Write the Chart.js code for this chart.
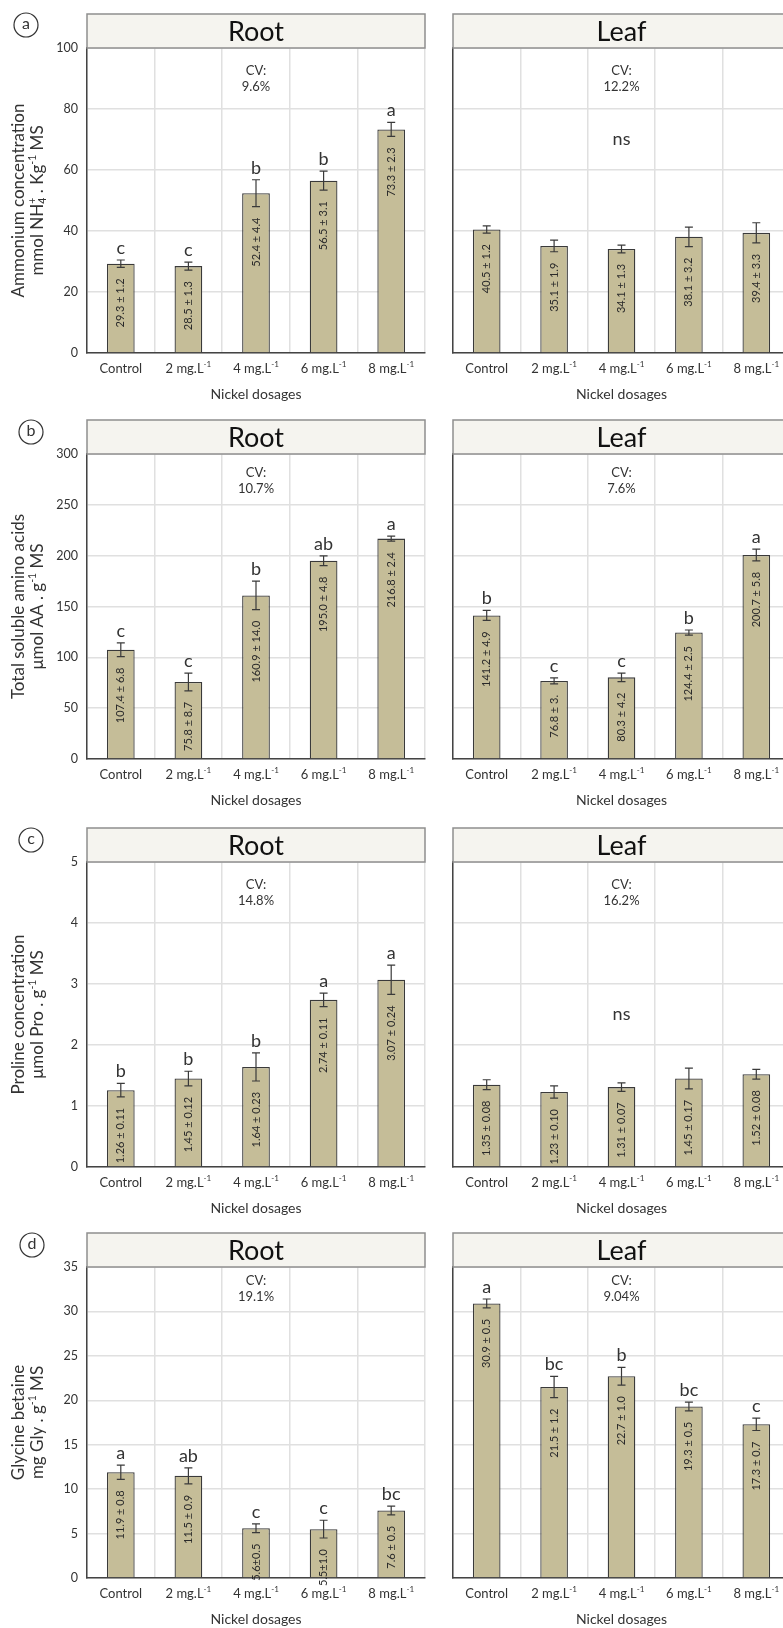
<!DOCTYPE html>
<html>
<head>
<meta charset="utf-8">
<script src="https://cdn.jsdelivr.net/npm/chart.js@4.4.1/dist/chart.umd.min.js"></script>
<style>
html,body{margin:0;padding:0;background:#fff;overflow:hidden;}
#wrap{position:relative;width:783px;height:1628px;overflow:hidden;background:#fff;}
#wrap canvas{position:absolute;}
</style>
</head>
<body>
<div id="wrap"></div>
<script>
// categories (superscripts written as {^..}, subscripts as {_..})
const doses = ['Control', '2 mg.L{^-1}', '4 mg.L{^-1}', '6 mg.L{^-1}', '8 mg.L{^-1}'];

// (a) ammonium
const ammoniumTicks = [0, 20, 40, 60, 80, 100];
const ammoniumRoot = [29.3, 28.5, 52.4, 56.5, 73.3];
const ammoniumRootSd = [1.2, 1.3, 4.4, 3.1, 2.3];
const ammoniumRootLetters = ['c', 'c', 'b', 'b', 'a'];
const ammoniumRootText = ['29.3 ± 1.2', '28.5 ± 1.3', '52.4 ± 4.4', '56.5 ± 3.1', '73.3 ± 2.3'];
const ammoniumLeaf = [40.5, 35.1, 34.1, 38.1, 39.4];
const ammoniumLeafSd = [1.2, 1.9, 1.3, 3.2, 3.3];
const ammoniumLeafText = ['40.5 ± 1.2', '35.1 ± 1.9', '34.1 ± 1.3', '38.1 ± 3.2', '39.4 ± 3.3'];

// (b) amino acids
const aminoTicks = [0, 50, 100, 150, 200, 250, 300];
const aminoRoot = [107.4, 75.8, 160.9, 195.0, 216.8];
const aminoRootSd = [6.8, 8.7, 14.0, 4.8, 2.4];
const aminoRootLetters = ['c', 'c', 'b', 'ab', 'a'];
const aminoRootText = ['107.4 ± 6.8', '75.8 ± 8.7', '160.9 ± 14.0', '195.0 ± 4.8', '216.8 ± 2.4'];
const aminoLeaf = [141.2, 76.8, 80.3, 124.4, 200.7];
const aminoLeafSd = [4.9, 3.0, 4.2, 2.5, 5.8];
const aminoLeafLetters = ['b', 'c', 'c', 'b', 'a'];
const aminoLeafText = ['141.2 ± 4.9', '76.8 ± 3.', '80.3 ± 4.2', '124.4 ± 2.5', '200.7 ± 5.8'];

// (c) proline
const prolineTicks = [0, 1, 2, 3, 4, 5];
const prolineRoot = [1.26, 1.45, 1.64, 2.74, 3.07];
const prolineRootSd = [0.11, 0.12, 0.23, 0.11, 0.24];
const prolineRootLetters = ['b', 'b', 'b', 'a', 'a'];
const prolineRootText = ['1.26 ± 0.11', '1.45 ± 0.12', '1.64 ± 0.23', '2.74 ± 0.11', '3.07 ± 0.24'];
const prolineLeaf = [1.35, 1.23, 1.31, 1.45, 1.52];
const prolineLeafSd = [0.08, 0.10, 0.07, 0.17, 0.08];
const prolineLeafText = ['1.35 ± 0.08', '1.23 ± 0.10', '1.31 ± 0.07', '1.45 ± 0.17', '1.52 ± 0.08'];

// (d) glycine betaine
const glycineTicks = [0, 5, 10, 15, 20, 25, 30, 35];
const glycineRoot = [11.9, 11.5, 5.6, 5.5, 7.6];
const glycineRootSd = [0.8, 0.9, 0.5, 1.0, 0.5];
const glycineRootLetters = ['a', 'ab', 'c', 'c', 'bc'];
const glycineRootText = ['11.9 ± 0.8', '11.5 ± 0.9', '5.6±0.5', '5.5±1.0', '7.6 ± 0.5'];
const glycineLeaf = [30.9, 21.5, 22.7, 19.3, 17.3];
const glycineLeafSd = [0.5, 1.2, 1.0, 0.5, 0.7];
const glycineLeafLetters = ['a', 'bc', 'b', 'bc', 'c'];
const glycineLeafText = ['30.9 ± 0.5', '21.5 ± 1.2', '22.7 ± 1.0', '19.3 ± 0.5', '17.3 ± 0.7'];

const FONT = 'Lato, "Open Sans", sans-serif';
const BAR = '#c5bd98';
const INK = '#333333';
const GRID = '#e0e0e0';

Chart.defaults.font.family = FONT;

const panels = [
  { tag: 'a', ticks: ammoniumTicks,
    ytitle: ['Ammonium concentration', 'mmol NH{_4}{^+} . Kg{^-1} MS'],
    root: { v: ammoniumRoot, sd: ammoniumRootSd, let: ammoniumRootLetters, txt: ammoniumRootText, cv: '9.6%' },
    leaf: { v: ammoniumLeaf, sd: ammoniumLeafSd, let: null, txt: ammoniumLeafText, cv: '12.2%', ns: 70 } },
  { tag: 'b', ticks: aminoTicks,
    ytitle: ['Total soluble amino acids', 'μmol AA . g{^-1} MS'],
    root: { v: aminoRoot, sd: aminoRootSd, let: aminoRootLetters, txt: aminoRootText, cv: '10.7%' },
    leaf: { v: aminoLeaf, sd: aminoLeafSd, let: aminoLeafLetters, txt: aminoLeafText, cv: '7.6%' } },
  { tag: 'c', ticks: prolineTicks,
    ytitle: ['Proline concentration', 'μmol Pro . g{^-1} MS'],
    root: { v: prolineRoot, sd: prolineRootSd, let: prolineRootLetters, txt: prolineRootText, cv: '14.8%' },
    leaf: { v: prolineLeaf, sd: prolineLeafSd, let: null, txt: prolineLeafText, cv: '16.2%', ns: 2.5 } },
  { tag: 'd', ticks: glycineTicks,
    ytitle: ['Glycine betaine', 'mg Gly . g{^-1} MS'],
    root: { v: glycineRoot, sd: glycineRootSd, let: glycineRootLetters, txt: glycineRootText, cv: '19.1%' },
    leaf: { v: glycineLeaf, sd: glycineLeafSd, let: glycineLeafLetters, txt: glycineLeafText, cv: '9.04%' } }
];

// page layout of each row
const rows = [
  { top: 0,    h: 406, plotTop: 48, plotBottom: 353, badge: [26, 25], cvY: 23 },
  { top: 406,  h: 406, plotTop: 48, plotBottom: 353, badge: [31, 26], cvY: 19 },
  { top: 812,  h: 406, plotTop: 50, plotBottom: 355, badge: [31, 28], cvY: 23 },
  { top: 1218, h: 410, plotTop: 49, plotBottom: 360, badge: [32, 27], cvY: 14 }
];

function richParts(str) {
  const parts = [];
  const re = /\{([_^])([^}]*)\}/g;
  let last = 0, m;
  while ((m = re.exec(str))) {
    if (m.index > last) parts.push({ t: str.slice(last, m.index), k: '' });
    parts.push({ t: m[2], k: m[1] });
    last = re.lastIndex;
  }
  if (last < str.length) parts.push({ t: str.slice(last), k: '' });
  return parts;
}

// draws text with sub/superscripts, vertically centred on y
function drawRich(ctx, str, x, y, size, align) {
  const parts = richParts(str);
  const small = size * 0.62;
  let w = 0;
  const pos = [];
  for (let i = 0; i < parts.length; i++) {
    const p = parts[i];
    ctx.font = (p.k ? small : size) + 'px ' + FONT;
    const pw = ctx.measureText(p.t).width;
    if (p.k === '^' && i > 0 && parts[i - 1].k === '_') {
      const prev = pos[i - 1];
      pos.push({ x: prev.x, w: pw });
      w = prev.x + Math.max(prev.w, pw);
    } else {
      pos.push({ x: w, w: pw });
      w += pw;
    }
  }
  let x0 = x;
  if (align === 'center') x0 = x - w / 2;
  if (align === 'right') x0 = x - w;
  const base = y + size * 0.35;
  ctx.textAlign = 'left';
  ctx.textBaseline = 'alphabetic';
  parts.forEach((p, i) => {
    ctx.font = (p.k ? small : size) + 'px ' + FONT;
    let by = base;
    if (p.k === '^') by = base - size * 0.4;
    if (p.k === '_') by = base + size * 0.2;
    ctx.fillText(p.t, x0 + pos[i].x, by);
  });
}

const deco = {
  id: 'deco',
  afterDraw(chart, args, o) {
    const ctx = chart.ctx;
    const a = chart.chartArea;
    const xs = chart.scales.x, ys = chart.scales.y;
    const s = o.series;
    ctx.save();
    ctx.fillStyle = INK;
    ctx.strokeStyle = INK;

    // header strip
    const hh = 34;
    ctx.fillStyle = '#f5f4ef';
    ctx.fillRect(a.left, a.top - hh, a.right - a.left, hh);
    ctx.strokeStyle = '#8e8e8e';
    ctx.lineWidth = 1.5;
    ctx.strokeRect(a.left, a.top - hh, a.right - a.left, hh);
    ctx.fillStyle = '#111';
    ctx.font = '27px ' + FONT;
    ctx.textAlign = 'center';
    ctx.textBaseline = 'middle';
    ctx.fillText(o.title, (a.left + a.right) / 2, a.top - hh / 2 + 1);

    // CV
    ctx.fillStyle = INK;
    ctx.font = '13px ' + FONT;
    const cx = xs.getPixelForValue(2);
    ctx.fillText('CV:', cx, a.top + o.cvY);
    ctx.fillText(s.cv, cx, a.top + o.cvY + 16);
    if (s.ns !== undefined) {
      ctx.font = '18px ' + FONT;
      ctx.fillText('ns', cx, ys.getPixelForValue(s.ns));
    }

    // error bars, letters, values
    s.v.forEach((v, i) => {
      const px = xs.getPixelForValue(i);
      const hi = ys.getPixelForValue(v + s.sd[i]);
      const lo = ys.getPixelForValue(v - s.sd[i]);
      ctx.strokeStyle = '#3a3a3a';
      ctx.lineWidth = 1.2;
      ctx.beginPath();
      ctx.moveTo(px, hi); ctx.lineTo(px, lo);
      ctx.moveTo(px - 4, hi); ctx.lineTo(px + 4, hi);
      ctx.moveTo(px - 4, lo); ctx.lineTo(px + 4, lo);
      ctx.stroke();
      if (s.let) {
        ctx.font = '18px ' + FONT;
        ctx.textAlign = 'center';
        ctx.textBaseline = 'alphabetic';
        ctx.fillStyle = INK;
        ctx.fillText(s.let[i], px, hi - 6);
      }
      ctx.save();
      ctx.translate(px, Math.min(lo + 11, a.bottom - 4));
      ctx.rotate(-Math.PI / 2);
      ctx.font = '11px ' + FONT;
      ctx.textAlign = 'right';
      ctx.textBaseline = 'middle';
      ctx.fillStyle = '#2a2a2a';
      ctx.fillText(s.txt[i], 0, 0);
      ctx.restore();
    });

    // category labels
    ctx.fillStyle = INK;
    doses.forEach((d, i) => {
      drawRich(ctx, d, xs.getPixelForValue(i), a.bottom + 15, 13, 'center');
    });
    ctx.textAlign = 'center';
    ctx.textBaseline = 'middle';
    ctx.font = '14px ' + FONT;
    ctx.fillText('Nickel dosages', (a.left + a.right) / 2, a.bottom + 41);

    if (o.ytitle) {
      const yc = (a.top + a.bottom) / 2;
      o.ytitle.forEach((t, k) => {
        ctx.save();
        ctx.translate(k === 0 ? 18 : 37, yc);
        ctx.rotate(-Math.PI / 2);
        ctx.fillStyle = INK;
        drawRich(ctx, t, 0, 0, 17, 'center');
        ctx.restore();
      });
    }
    if (o.badge) {
      ctx.strokeStyle = INK;
      ctx.lineWidth = 1.2;
      ctx.beginPath();
      ctx.arc(o.badge[0], o.badge[1], 12, 0, Math.PI * 2);
      ctx.stroke();
      ctx.font = '16px ' + FONT;
      ctx.textAlign = 'center';
      ctx.textBaseline = 'middle';
      ctx.fillText(o.tag, o.badge[0], o.badge[1] - 1);
    }
    ctx.restore();
  }
};

const wrap = document.getElementById('wrap');

function makeChart(p, row, side) {
  const isRoot = side === 'root';
  const s = p[side];
  const cw = isRoot ? 440 : 360;
  const canvas = document.createElement('canvas');
  canvas.width = cw;
  canvas.height = row.h;
  canvas.style.left = (isRoot ? 0 : 440) + 'px';
  canvas.style.top = row.top + 'px';
  canvas.style.width = cw + 'px';
  canvas.style.height = row.h + 'px';
  wrap.appendChild(canvas);

  const yw = isRoot ? 40 : 13;
  const ticks = p.ticks;
  new Chart(canvas, {
    type: 'bar',
    data: {
      labels: doses,
      datasets: [{
        data: s.v,
        backgroundColor: BAR,
        borderColor: '#3a3a3a',
        borderWidth: 1.3,
        barPercentage: 0.41,
        categoryPercentage: 1
      }]
    },
    options: {
      responsive: false,
      animation: false,
      devicePixelRatio: 1,
      layout: { padding: { left: isRoot ? 47 : 0, right: isRoot ? 15 : 10, top: row.plotTop, bottom: row.h - row.plotBottom } },
      plugins: {
        legend: { display: false },
        tooltip: { enabled: false },
        deco: {
          series: s, title: isRoot ? 'Root' : 'Leaf', cvY: row.cvY,
          ytitle: isRoot ? p.ytitle : null,
          badge: isRoot ? row.badge : null, tag: p.tag
        }
      },
      scales: {
        x: {
          ticks: { display: false },
          grid: {
            offset: true, drawTicks: false, lineWidth: 1.5,
            color: c => (c.index === doses.length ? '#9a9a9a' : GRID)
          },
          border: { color: '#444', width: 1.5 },
          afterFit: sc => { sc.height = 0; sc.paddingLeft = 0; sc.paddingRight = 0; }
        },
        y: {
          min: ticks[0],
          max: ticks[ticks.length - 1],
          ticks: {
            display: isRoot, stepSize: ticks[1] - ticks[0],
            color: INK, padding: 9, font: { size: 12.5 }
          },
          grid: { drawTicks: false, lineWidth: 1.5, color: GRID },
          border: { color: '#444', width: 1.5 },
          afterFit: sc => { sc.width = yw; sc.paddingTop = 0; sc.paddingBottom = 0; }
        }
      }
    },
    plugins: [deco]
  });
}

panels.forEach((p, r) => {
  makeChart(p, rows[r], 'root');
  makeChart(p, rows[r], 'leaf');
});
</script>
</body>
</html>
